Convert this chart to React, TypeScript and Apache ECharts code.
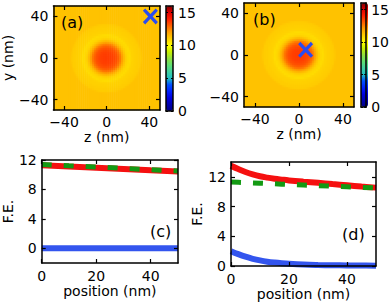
import React, { useEffect, useRef } from 'react';
import * as echarts from 'echarts';

// ---- data ----
const mapTicks = [-40, 0, 40];
const cbarTicks = [0, 5, 10, 15];
const feTicks = [0, 4, 8, 12];
const posTicks = [0, 20, 40];

// radial free-energy profile of the maps (radius in nm -> F.E.)
const profileR = [0, 6, 10, 13, 15, 17, 19, 22, 24, 32, 34, 80];
const profileFE = [13.6, 13.5, 13.2, 12.6, 11.9, 11.3, 10.9, 10.75, 10.95, 11.1, 11.3, 11.3];

const markerA = [41, 40];
const markerB = [6, 5];

// panel (c)
const posC = [0, 10, 20, 30, 40, 50];
const redC = [11.3, 11.12, 10.95, 10.78, 10.6, 10.45];
const greenC = [11.4, 11.22, 11.05, 10.87, 10.68, 10.5];
const blueC = [0, 0, 0, 0, 0, 0];

// panel (d)
const posD = [0, 2.5, 5, 7.5, 10, 12.5, 15, 17.5, 20, 25, 30, 35, 40, 45, 50];
const redD = [13.5, 13.05, 12.65, 12.33, 12.08, 11.9, 11.75, 11.63, 11.52, 11.35, 11.2, 11.03, 10.87, 10.7, 10.55];
const greenD = [11.3, 11.26, 11.22, 11.18, 11.14, 11.1, 11.06, 11.02, 10.98, 10.9, 10.82, 10.74, 10.66, 10.58, 10.5];
const blueD = [2.0, 1.6, 1.25, 0.97, 0.75, 0.58, 0.46, 0.37, 0.3, 0.2, 0.14, 0.1, 0.08, 0.06, 0.05];

const cmap = [
  '#000080', '#0000b0', '#0000e0', '#0020ff', '#0050ff', '#20c0c0', '#40d0a0', '#60e070',
  '#90e040', '#c8f000', '#ffff00', '#ffd000', '#ffa000', '#ff6000', '#ff2000', '#e00000', '#800000',
];

const FONT = 'DejaVu Sans';
const FS = 14;

const NX = 55;
const NY = 52;

function interp(xs: number[], ys: number[], x: number) {
  if (x <= xs[0]) return ys[0];
  for (let i = 1; i < xs.length; i++) {
    if (x <= xs[i]) {
      const t = (x - xs[i - 1]) / (xs[i] - xs[i - 1]);
      return ys[i - 1] + t * (ys[i] - ys[i - 1]);
    }
  }
  return ys[ys.length - 1];
}

const zCats = Array.from({ length: NX }, (_, i) => -50 + ((i + 0.5) * 100) / NX);
const yCats = Array.from({ length: NY }, (_, j) => -50 + ((j + 0.5) * 100) / NY);
const mapData: number[][] = [];
zCats.forEach((z, i) =>
  yCats.forEach((y, j) => {
    mapData.push([i, j, interp(profileR, profileFE, Math.sqrt(z * z + y * y))]);
  })
);

const fmt = (v: number) => (v < 0 ? '\u2212' + Math.abs(v) : String(v));
const line = { show: true, onZero: false, lineStyle: { color: '#000', width: 1.5 } };
const txt = { fontFamily: FONT, fontSize: FS, color: '#000' };

function vAxis(
  gridIndex: number,
  position: string,
  min: number,
  max: number,
  ticks: number[],
  labels: boolean,
  extra: any = {}
) {
  return {
    type: 'value',
    gridIndex,
    position,
    min,
    max,
    z: 10,
    axisLine: line,
    splitLine: { show: false },
    axisTick: { show: ticks.length > 0, inside: true, length: 4, customValues: ticks, lineStyle: { color: '#000', width: 1.2 } },
    axisLabel: labels
      ? { show: true, customValues: ticks, formatter: fmt, margin: 5, ...txt }
      : { show: false },
    nameTextStyle: txt,
    ...extra,
  };
}
const catAxis = (gridIndex: number, data: number[]) => ({
  type: 'category',
  gridIndex,
  data: data.map((d) => d.toFixed(2)),
  show: false,
});

const xSym = 'path://M0,3 L3,0 L10,7 L17,0 L20,3 L13,10 L20,17 L17,20 L10,13 L3,20 L0,17 L7,10 Z';
const pair = (xs: number[], ys: number[]) => xs.map((x, i) => [x, ys[i]]);
const cbTick = { show: true, inside: true, length: 2, customValues: cbarTicks, lineStyle: { color: '#000' } };

const option: any = {
  animation: false,
  backgroundColor: '#fff',
  grid: [
    { left: 50, top: 6, width: 110, height: 104 },
    { left: 244, top: 3, width: 110, height: 104 },
    { left: 166, top: 6, width: 7, height: 105 },
    { left: 361, top: 3, width: 7, height: 104 },
    { left: 34, top: 160, width: 144, height: 103 },
    { left: 231, top: 162, width: 145, height: 104 },
  ],
  xAxis: [
    vAxis(0, 'bottom', -50, 50, mapTicks, true, { name: 'z (nm)', nameLocation: 'middle', nameGap: 16 }),
    vAxis(0, 'top', -50, 50, mapTicks, false),
    catAxis(0, zCats),
    vAxis(1, 'bottom', -50, 50, mapTicks, true, { name: 'z (nm)', nameLocation: 'middle', nameGap: 15 }),
    vAxis(1, 'top', -50, 50, mapTicks, false),
    catAxis(1, zCats),
    vAxis(2, 'bottom', 0, 1, [], false),
    vAxis(2, 'top', 0, 1, [], false),
    vAxis(3, 'bottom', 0, 1, [], false),
    vAxis(3, 'top', 0, 1, [], false),
    vAxis(4, 'bottom', 0, 50, posTicks, true, { name: 'position (nm)', nameLocation: 'middle', nameGap: 18, axisLabel: { show: true, customValues: posTicks, formatter: fmt, margin: 6, ...txt } }),
    vAxis(4, 'top', 0, 50, posTicks, false),
    vAxis(5, 'bottom', 0, 50, posTicks, true, { name: 'position (nm)', nameLocation: 'middle', nameGap: 18, axisLabel: { show: true, customValues: posTicks, formatter: fmt, margin: 6, ...txt } }),
    vAxis(5, 'top', 0, 50, posTicks, false),
  ],
  yAxis: [
    vAxis(0, 'left', -50, 50, mapTicks, true, { name: 'y (nm)', nameLocation: 'middle', nameGap: 33 }),
    vAxis(0, 'right', -50, 50, mapTicks, false),
    catAxis(0, yCats),
    vAxis(1, 'left', -50, 50, mapTicks, true),
    vAxis(1, 'right', -50, 50, mapTicks, false),
    catAxis(1, yCats),
    vAxis(2, 'left', 0, 16, cbarTicks, false, { axisTick: cbTick }),
    vAxis(2, 'right', 0, 16, cbarTicks, true, { axisTick: cbTick }),
    vAxis(3, 'left', 0, 16, cbarTicks, false, { axisTick: cbTick }),
    vAxis(3, 'right', 0, 16, cbarTicks, true, { axisTick: cbTick }),
    vAxis(4, 'left', -2, 12, feTicks, true, { name: 'F.E.', nameLocation: 'middle', nameGap: 25 }),
    vAxis(4, 'right', -2, 12, feTicks, false),
    vAxis(5, 'left', 0, 14, feTicks, true, { name: 'F.E.', nameLocation: 'middle', nameGap: 26 }),
    vAxis(5, 'right', 0, 14, feTicks, false),
  ],
  visualMap: [
    { type: 'continuous', seriesIndex: 0, min: 0, max: 16, inRange: { color: cmap }, calculable: false, left: 166, top: 6, itemWidth: 7, itemHeight: 105, padding: 0, hoverLink: false },
    { type: 'continuous', seriesIndex: 1, min: 0, max: 16, inRange: { color: cmap }, calculable: false, left: 361, top: 3, itemWidth: 7, itemHeight: 104, padding: 0, hoverLink: false },
  ],
  series: [
    { type: 'heatmap', xAxisIndex: 2, yAxisIndex: 2, data: mapData, progressive: 0, emphasis: { disabled: true } },
    { type: 'heatmap', xAxisIndex: 5, yAxisIndex: 5, data: mapData, progressive: 0, emphasis: { disabled: true } },
    { type: 'scatter', xAxisIndex: 0, yAxisIndex: 0, z: 5, data: [markerA], symbol: xSym, symbolSize: [15, 16], itemStyle: { color: '#2a4cf0', opacity: 1 } },
    { type: 'scatter', xAxisIndex: 3, yAxisIndex: 3, z: 5, data: [markerB], symbol: xSym, symbolSize: [15, 16], itemStyle: { color: '#2a4cf0', opacity: 1 } },
    { type: 'line', xAxisIndex: 10, yAxisIndex: 10, data: pair(posC, redC), showSymbol: false, lineStyle: { color: '#f51010', width: 6 } },
    { type: 'line', xAxisIndex: 10, yAxisIndex: 10, data: pair(posC, greenC), showSymbol: false, lineStyle: { color: '#139a13', width: 5, type: [10, 12] } },
    { type: 'line', xAxisIndex: 10, yAxisIndex: 10, data: pair(posC, blueC), showSymbol: false, lineStyle: { color: '#3355ee', width: 6 } },
    { type: 'line', xAxisIndex: 12, yAxisIndex: 12, data: pair(posD, redD), showSymbol: false, smooth: 0.4, lineStyle: { color: '#f51010', width: 6 } },
    { type: 'line', xAxisIndex: 12, yAxisIndex: 12, data: pair(posD, greenD), showSymbol: false, lineStyle: { color: '#139a13', width: 5, type: [10, 12] } },
    { type: 'line', xAxisIndex: 12, yAxisIndex: 12, data: pair(posD, blueD), showSymbol: false, smooth: 0.4, lineStyle: { color: '#3355ee', width: 6 } },
  ],
  graphic: [
    { type: 'text', left: 61, top: 14, z: 20, style: { text: '(a)', font: `16px "${FONT}"`, fill: '#000' } },
    { type: 'text', left: 253, top: 11, z: 20, style: { text: '(b)', font: `16px "${FONT}"`, fill: '#000' } },
    { type: 'text', left: 150, top: 223, z: 20, style: { text: '(c)', font: `16px "${FONT}"`, fill: '#000' } },
    { type: 'text', left: 342, top: 226, z: 20, style: { text: '(d)', font: `16px "${FONT}"`, fill: '#000' } },
  ],
};

export default function App() {
  const ref = useRef<HTMLDivElement>(null);
  useEffect(() => {
    document.body.style.margin = '0';
    const chart = echarts.init(ref.current!, null, { renderer: 'svg', width: 392, height: 305 });
    chart.setOption(option);
    return () => chart.dispose();
  }, []);
  return <div ref={ref} style={{ width: 392, height: 305 }} />;
}
